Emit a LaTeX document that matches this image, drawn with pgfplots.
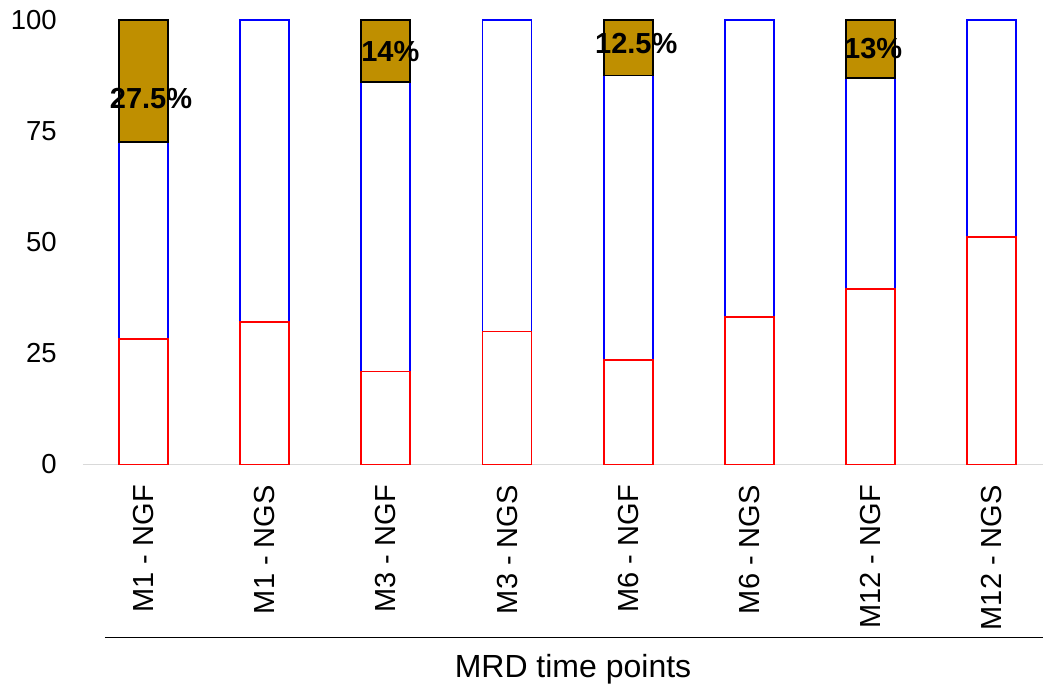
\documentclass[border=0pt]{standalone}
\usepackage{pgfplots}
\pgfplotsset{compat=1.18}
\usepackage{pgfplotstable}
\usepackage{fontspec}
\setmainfont{Liberation Sans}

\definecolor{goldbar}{HTML}{BF8F00}
\definecolor{axisgray}{HTML}{D9D9D9}
\definecolor{segred}{HTML}{FF0000}
\definecolor{segblue}{HTML}{0000FF}

% lower (red) and middle (blue) segments of every bar, in percent
\pgfplotstableread{
x red blue
0 28.2 44.3
1 32.1 67.9
2 20.9 65.1
3 29.9 70.1
4 23.5 64.0
5 33.2 66.8
6 39.5 47.5
7 51.1 48.9
}\shares

% top (gold) segment of the NGF bars, resting on the cumulative base
\pgfplotstableread{
x base gold
0 72.5 27.5
2 86.0 14.0
4 87.5 12.5
6 87.0 13.0
}\ngf

\begin{document}
\begin{tikzpicture}
\pgfplotsset{
  common/.style={
    x=121.2pt, y=4.445pt,
    xmin=-0.5, xmax=7.42, ymin=0, ymax=100,
    clip=false,
    ybar stacked, bar width=49pt, bar shift=0pt,
  },
}
\begin{axis}[common,
  axis x line*=bottom, axis y line*=left,
  x axis line style={draw=axisgray, line width=1.6pt, -},
  y axis line style={draw=none, -},
  major tick length=0pt,
  ytick={0,25,50,75,100},
  xtick={0,...,7},
  xticklabels={M1 - NGF, M1 - NGS, M3 - NGF, M3 - NGS, M6 - NGF, M6 - NGS, M12 - NGF, M12 - NGS},
  /pgf/number format/assume math mode=true,
  yticklabel style={font=\fontsize{27.5}{33}\selectfont, anchor=east, inner sep=0pt, xshift=-26pt},
  xticklabel style={font=\fontsize{29}{35}\selectfont, yshift=-20.5pt, rotate=90, anchor=east, inner sep=0pt},
]
\addplot[draw=segred, fill=white, line width=1.8pt] table[x=x, y=red] {\shares};
\addplot[draw=segblue, fill=white, line width=1.8pt] table[x=x, y=blue] {\shares};

\draw[black, line width=1.3pt] (axis cs:-0.318,-39.0) -- (axis cs:7.42,-39.0);
\node[anchor=base, inner sep=0pt, font=\fontsize{32}{38}\selectfont] at (axis cs:3.544,-48.03) {MRD time points};

\coordinate (bbA) at (axis cs:-1.184,-50.06);
\coordinate (bbB) at (axis cs:7.422,104.5);
\end{axis}

\begin{axis}[common, hide axis]
\addplot[draw=none, fill=none] table[x=x, y=base] {\ngf};
\addplot[draw=black, fill=goldbar, line width=1.8pt] table[x=x, y=gold] {\ngf};

% anchor points of the value labels
\coordinate (lA) at (axis cs:0,82.4);
\coordinate (lB) at (axis cs:2,93.0);
\coordinate (lC) at (axis cs:4,94.6);
\coordinate (lD) at (axis cs:6,93.5);
\end{axis}

\tikzset{vlabel/.style={inner sep=0pt, font=\bfseries\fontsize{29}{35}\selectfont}}
\node[vlabel, xshift=7.5pt] at (lA) {27.5\%};
\node[vlabel, xshift=4.5pt] at (lB) {14\%};
\node[vlabel, xshift=8pt] at (lC) {12.5\%};
\node[vlabel, xshift=2.5pt] at (lD) {13\%};

\pgfresetboundingbox
\useasboundingbox (bbA) rectangle (bbB);
\end{tikzpicture}
\end{document}
